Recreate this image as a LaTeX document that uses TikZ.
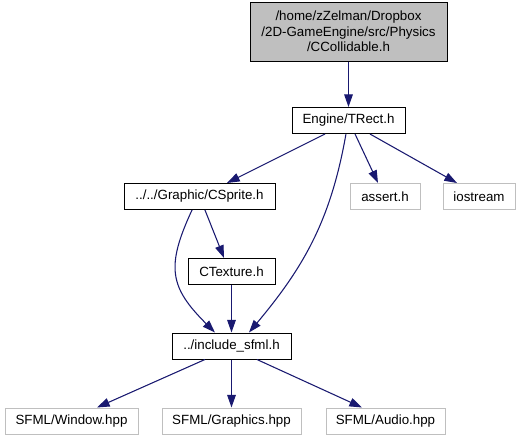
\documentclass[tikz,border=0pt]{standalone}
\usepackage{fontspec}
\setmainfont{Liberation Sans}
\usetikzlibrary{arrows.meta}
\definecolor{edgeblue}{HTML}{191970}
\definecolor{boxgray}{HTML}{BFBFBF}

\begin{document}
\begin{tikzpicture}[
    x=0.75pt, y=-0.75pt,
    >={Triangle[length=9.5pt, width=6.5pt]},
    block/.style={draw=black, rectangle, line width=0.75pt, minimum height=19.5pt, inner sep=0pt, align=center, font=\fontsize{10}{11.5}\selectfont},
    ext/.style={block, draw=boxgray},
    dep/.style={->, draw=edgeblue, line width=0.8pt}
]
    \useasboundingbox (0,0) rectangle (521,440);

    % Header nodes
    \node[block, fill=boxgray, minimum width=147.75pt, minimum height=44.25pt] (coll) at (348.5,31.5) {/home/zZelman/Dropbox\\/2D-GameEngine/src/Physics\\/CCollidable.h};
    \node[block, minimum width=84.75pt] (trect) at (348.5,120.5) {Engine/TRect.h};
    \node[block, minimum width=113.25pt] (sprite) at (199.5,196.5) {../../Graphic/CSprite.h};
    \node[block, minimum width=65.25pt] (texture) at (231.5,271.5) {CTexture.h};
    \node[block, minimum width=89.25pt] (sfml) at (231.5,346) {../include\_sfml.h};

    % System headers
    \node[ext, minimum width=52.5pt] (assert) at (385,196.5) {assert.h};
    \node[ext, minimum width=54pt] (iostream) at (479,196.5) {iostream};
    \node[ext, minimum width=99.75pt] (window) at (71.5,421) {SFML/Window.hpp};
    \node[ext, minimum width=104.25pt] (graphics) at (231.5,421) {SFML/Graphics.hpp};
    \node[ext, minimum width=89.25pt] (audio) at (385.5,421) {SFML/Audio.hpp};

    % Includes of CCollidable.h and TRect.h
    \draw[dep] (coll) -- (trect);
    \draw[dep] ([xshift=-17.6pt]trect.south) -- ([xshift=20.6pt]sprite.north);
    \draw[dep] ([xshift=-1.9pt]trect.south) to[out=-100, in=50] ([xshift=13.1pt]sfml.north);
    \draw[dep] ([xshift=4.9pt]trect.south) -- ([xshift=-5.25pt]assert.north);
    \draw[dep] ([xshift=16.1pt]trect.south) -- ([xshift=-16.5pt]iostream.north);

    % Includes of CSprite.h and CTexture.h
    \draw[dep] ([xshift=4.1pt]sprite.south) -- ([xshift=-5.6pt]texture.north);
    \draw[dep] ([xshift=-5.6pt]sprite.south) to[out=-115, in=135, looseness=1.3] ([xshift=-12.4pt]sfml.north);
    \draw[dep] (texture) -- (sfml);

    % Includes of include_sfml.h
    \draw[dep] ([xshift=-19.9pt]sfml.south) -- ([xshift=19.1pt]window.north);
    \draw[dep] (sfml) -- (graphics);
    \draw[dep] ([xshift=19.1pt]sfml.south) -- ([xshift=-17.6pt]audio.north);

\end{tikzpicture}
\end{document}
